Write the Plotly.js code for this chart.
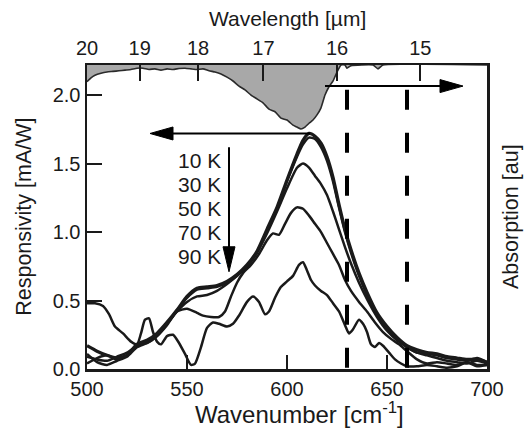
<!DOCTYPE html>
<html>
<head>
<meta charset="utf-8">
<script src="https://cdn.plot.ly/plotly-3.0.1.min.js"></script>
<style>html,body{margin:0;padding:0;background:#fff;}#chart{width:526px;height:432px;}</style>
</head>
<body>
<div id="chart"></div>
<script>
// ---- Data ----
const wnA = [500,505,510,515,520,525,530,535,540,545,550,555,560,565,570,575,580,585,590,595,600,605,608,611,614,617,620,623,626,629,632,636,640,645,650,655,660,665,670,675,680,685,690,695,700];
const r10K = [0.17,0.13,0.10,0.08,0.10,0.18,0.21,0.26,0.34,0.43,0.53,0.59,0.60,0.61,0.64,0.69,0.76,0.86,1.02,1.18,1.38,1.57,1.67,1.72,1.70,1.65,1.55,1.40,1.20,1.02,0.87,0.70,0.56,0.41,0.31,0.23,0.17,0.14,0.12,0.11,0.09,0.08,0.07,0.07,0.05];
const r30K = [0.09,0.07,0.06,0.09,0.12,0.17,0.20,0.25,0.33,0.43,0.52,0.58,0.59,0.60,0.63,0.68,0.75,0.85,1.01,1.17,1.37,1.55,1.64,1.69,1.68,1.62,1.52,1.37,1.18,1.00,0.85,0.68,0.54,0.40,0.30,0.22,0.16,0.12,0.11,0.10,0.08,0.07,0.06,0.08,0.05];
const r50K = [0.04,0.08,0.10,0.07,0.10,0.18,0.19,0.24,0.33,0.42,0.49,0.53,0.54,0.57,0.62,0.68,0.75,0.85,0.99,1.15,1.32,1.47,1.50,1.47,1.41,1.35,1.27,1.15,1.02,0.89,0.77,0.63,0.51,0.38,0.28,0.21,0.16,0.12,0.10,0.08,0.06,0.05,0.04,0.06,0.04];

const wn70 = [500,505,510,515,520,525,530,535,540,545,550,555,558,562,566,569,572,575,578,582,586,590,593,596,599,602,605,608,611,614,617,620,623,626,629,632,636,640,644,648,652,656,660,665,670,675,680,685,690,695,700];
const r70K = [0.11,0.05,0.03,0.06,0.09,0.16,0.19,0.24,0.32,0.42,0.44,0.41,0.39,0.38,0.38,0.42,0.53,0.63,0.70,0.76,0.84,0.94,0.99,0.98,1.06,1.14,1.18,1.17,1.12,1.06,1.00,0.92,0.84,0.76,0.65,0.57,0.49,0.42,0.34,0.27,0.22,0.18,0.13,0.07,0.04,0.05,0.04,0.03,0.05,0.02,0.03];

const wn90 = [500,504,508,511,514,518,522,525,527,529,531,533,535,537,540,543,546,549,552,554,557,560,563,566,570,573,576,580,583,586,589,591,594,597,600,603,606,608,610,612,614,617,620,623,626,629,631,633,636,638,640,642,644,646,648,651,654,657,660,665,670,675,680,685,690,695,700];
const r90K = [0.48,0.48,0.46,0.40,0.31,0.26,0.20,0.18,0.26,0.36,0.37,0.27,0.20,0.18,0.24,0.25,0.19,0.11,0.03,0.04,0.16,0.30,0.34,0.33,0.31,0.33,0.39,0.49,0.53,0.49,0.40,0.42,0.52,0.60,0.64,0.68,0.76,0.78,0.72,0.65,0.61,0.57,0.54,0.48,0.42,0.32,0.26,0.29,0.36,0.33,0.27,0.18,0.16,0.19,0.17,0.12,0.07,0.04,0.02,0.02,0.03,0.02,0.01,0.02,0.05,0.03,0.03];

const wnAbs = [500,502,504,507,510,513,516,519,522,525,528,531,534,537,540,543,546,549,552,555,558,561,564,567,570,573,576,579,582,585,588,591,594,597,600,603,605,607,609,611,613,615,617,619,621,623,625,627,629,630,632,643,645.5,648,700];
const absorption = [0.26,0.20,0.16,0.13,0.11,0.10,0.09,0.08,0.07,0.05,0.05,0.07,0.06,0.08,0.06,0.07,0.055,0.05,0.06,0.07,0.06,0.09,0.11,0.14,0.19,0.25,0.33,0.39,0.47,0.53,0.59,0.69,0.73,0.83,0.86,0.94,0.97,1.00,0.97,0.91,0.86,0.78,0.67,0.47,0.34,0.25,0.11,0.0,0.0,0.05,0.01,0.0,0.06,0.0,0.0];

const wavelengthTicks = [20,19,18,17,16,15];      // µm
const tempLabels = ['10 K','30 K','50 K','70 K','90 K'];
const tempLabelY = [1.52,1.347,1.17,0.996,0.82];
const markerWn = [630,660];                       // dashed reference lines

// ---- Styling ----
const ink = '#1a1a1a';
const FONT = 'Liberation Sans, Arial, Helvetica, sans-serif';

function curve(x, y, w) {
  return {x:x, y:y, type:'scatter', mode:'lines', line:{color:ink, width:w, shape:'spline', smoothing:0.6}, hoverinfo:'skip', xaxis:'x', yaxis:'y'};
}

const traces = [
  {x:wnAbs, y:absorption, type:'scatter', mode:'lines', fill:'tozeroy', fillcolor:'#a8a8a8',
   line:{color:'#2a2a2a', width:1.6, shape:'spline', smoothing:0.4}, xaxis:'x2', yaxis:'y2', hoverinfo:'skip'},
  curve(wn90, r90K, 2.5),
  curve(wn70, r70K, 2.5),
  curve(wnA, r50K, 2.5),
  curve(wnA, r30K, 2.5),
  curve(wnA, r10K, 3.3)
];

const shapes = [];
markerWn.forEach(function(w){
  shapes.push({type:'line', xref:'x', yref:'y', x0:w, x1:w, y0:2.04, y1:0, line:{color:'#000', width:4, dash:'20px,23px'}});
});
// left arrow (responsivity axis)
shapes.push({type:'line', xref:'x', yref:'y', x0:611.5, x1:540, y0:1.72, y1:1.72, line:{color:'#000', width:2}});
shapes.push({type:'path', xref:'x', yref:'y', xsizemode:'pixel', ysizemode:'pixel', xanchor:531.5, yanchor:1.72,
  path:'M0,0 L23,6.5 L23,-6.5 Z', fillcolor:'#000', line:{color:'#000', width:1}});
// right arrow (absorption axis)
shapes.push({type:'line', xref:'x', yref:'y', x0:619, x1:680, y0:2.066, y1:2.066, line:{color:'#000', width:2}});
shapes.push({type:'path', xref:'x', yref:'y', xsizemode:'pixel', ysizemode:'pixel', xanchor:688, yanchor:2.066,
  path:'M0,0 L-23,6.5 L-23,-6.5 Z', fillcolor:'#000', line:{color:'#000', width:1}});
// down arrow (temperature)
shapes.push({type:'line', xref:'x', yref:'y', x0:571, x1:571, y0:1.62, y1:0.85, line:{color:'#000', width:2}});
shapes.push({type:'path', xref:'x', yref:'y', xsizemode:'pixel', ysizemode:'pixel', xanchor:571, yanchor:0.71,
  path:'M0,0 L-6,25 L6,25 Z', fillcolor:'#000', line:{color:'#000', width:1}});

const annotations = tempLabels.map(function(t,i){
  return {x:568, y:tempLabelY[i], xref:'x', yref:'y', text:t, showarrow:false, xanchor:'right', yanchor:'middle',
          font:{family:FONT, size:21, color:ink}};
});
// axis titles
annotations.push({xref:'paper', yref:'paper', x:0.265, y:-0.145, xanchor:'left', yanchor:'middle', showarrow:false,
  text:'Wavenumber [cm<sup>-1</sup>]', font:{family:FONT, size:24, color:ink}});
annotations.push({xref:'paper', yref:'paper', x:0.5, y:1.153, xanchor:'center', yanchor:'middle', showarrow:false,
  text:'Wavelength [µm]', font:{family:FONT, size:21, color:ink}});
annotations.push({xref:'paper', yref:'paper', x:-0.158, y:0.5, xanchor:'center', yanchor:'middle', showarrow:false, textangle:-90,
  text:'Responsivity [mA/W]', font:{family:FONT, size:21.5, color:ink}});
annotations.push({xref:'paper', yref:'paper', x:1.06, y:0.5, xanchor:'center', yanchor:'middle', showarrow:false, textangle:-90,
  text:'Absorption [au]', font:{family:FONT, size:21.5, color:ink}});

const axisCommon = {showgrid:false, zeroline:false, linecolor:ink, linewidth:2.5, tickcolor:ink, tickwidth:2,
                    tickfont:{family:FONT, size:20, color:ink}};

const layout = {
  width:526, height:432,
  margin:{l:87, r:39, t:65, b:63, pad:0},
  paper_bgcolor:'#fff', plot_bgcolor:'#fff',
  showlegend:false,
  font:{family:FONT, color:ink, size:20},
  xaxis: Object.assign({}, axisCommon, {range:[500,700], tickvals:[500,550,600,650,700], ticks:'inside', ticklen:14,
          showline:true, mirror:true}),
  xaxis2: Object.assign({}, axisCommon, {range:[500,700], overlaying:'x', side:'top', anchor:'y',
          tickvals:wavelengthTicks.map(function(l){return 10000/l;}), ticktext:wavelengthTicks.map(String),
          ticks:'inside', ticklen:16, showline:true}),
  yaxis: Object.assign({}, axisCommon, {range:[0,2.22], tickvals:[0,0.5,1,1.5,2], tickformat:'.1f', ticks:'inside', ticklen:15,
          showline:true, mirror:true}),
  yaxis2: {range:[4.75,0], overlaying:'y', side:'right', anchor:'x', showticklabels:false, ticks:'', showgrid:false,
          zeroline:false, showline:false},
  shapes: shapes,
  annotations: annotations
};

Plotly.newPlot('chart', traces, layout, {staticPlot:true, displayModeBar:false});
</script>
</body>
</html>
